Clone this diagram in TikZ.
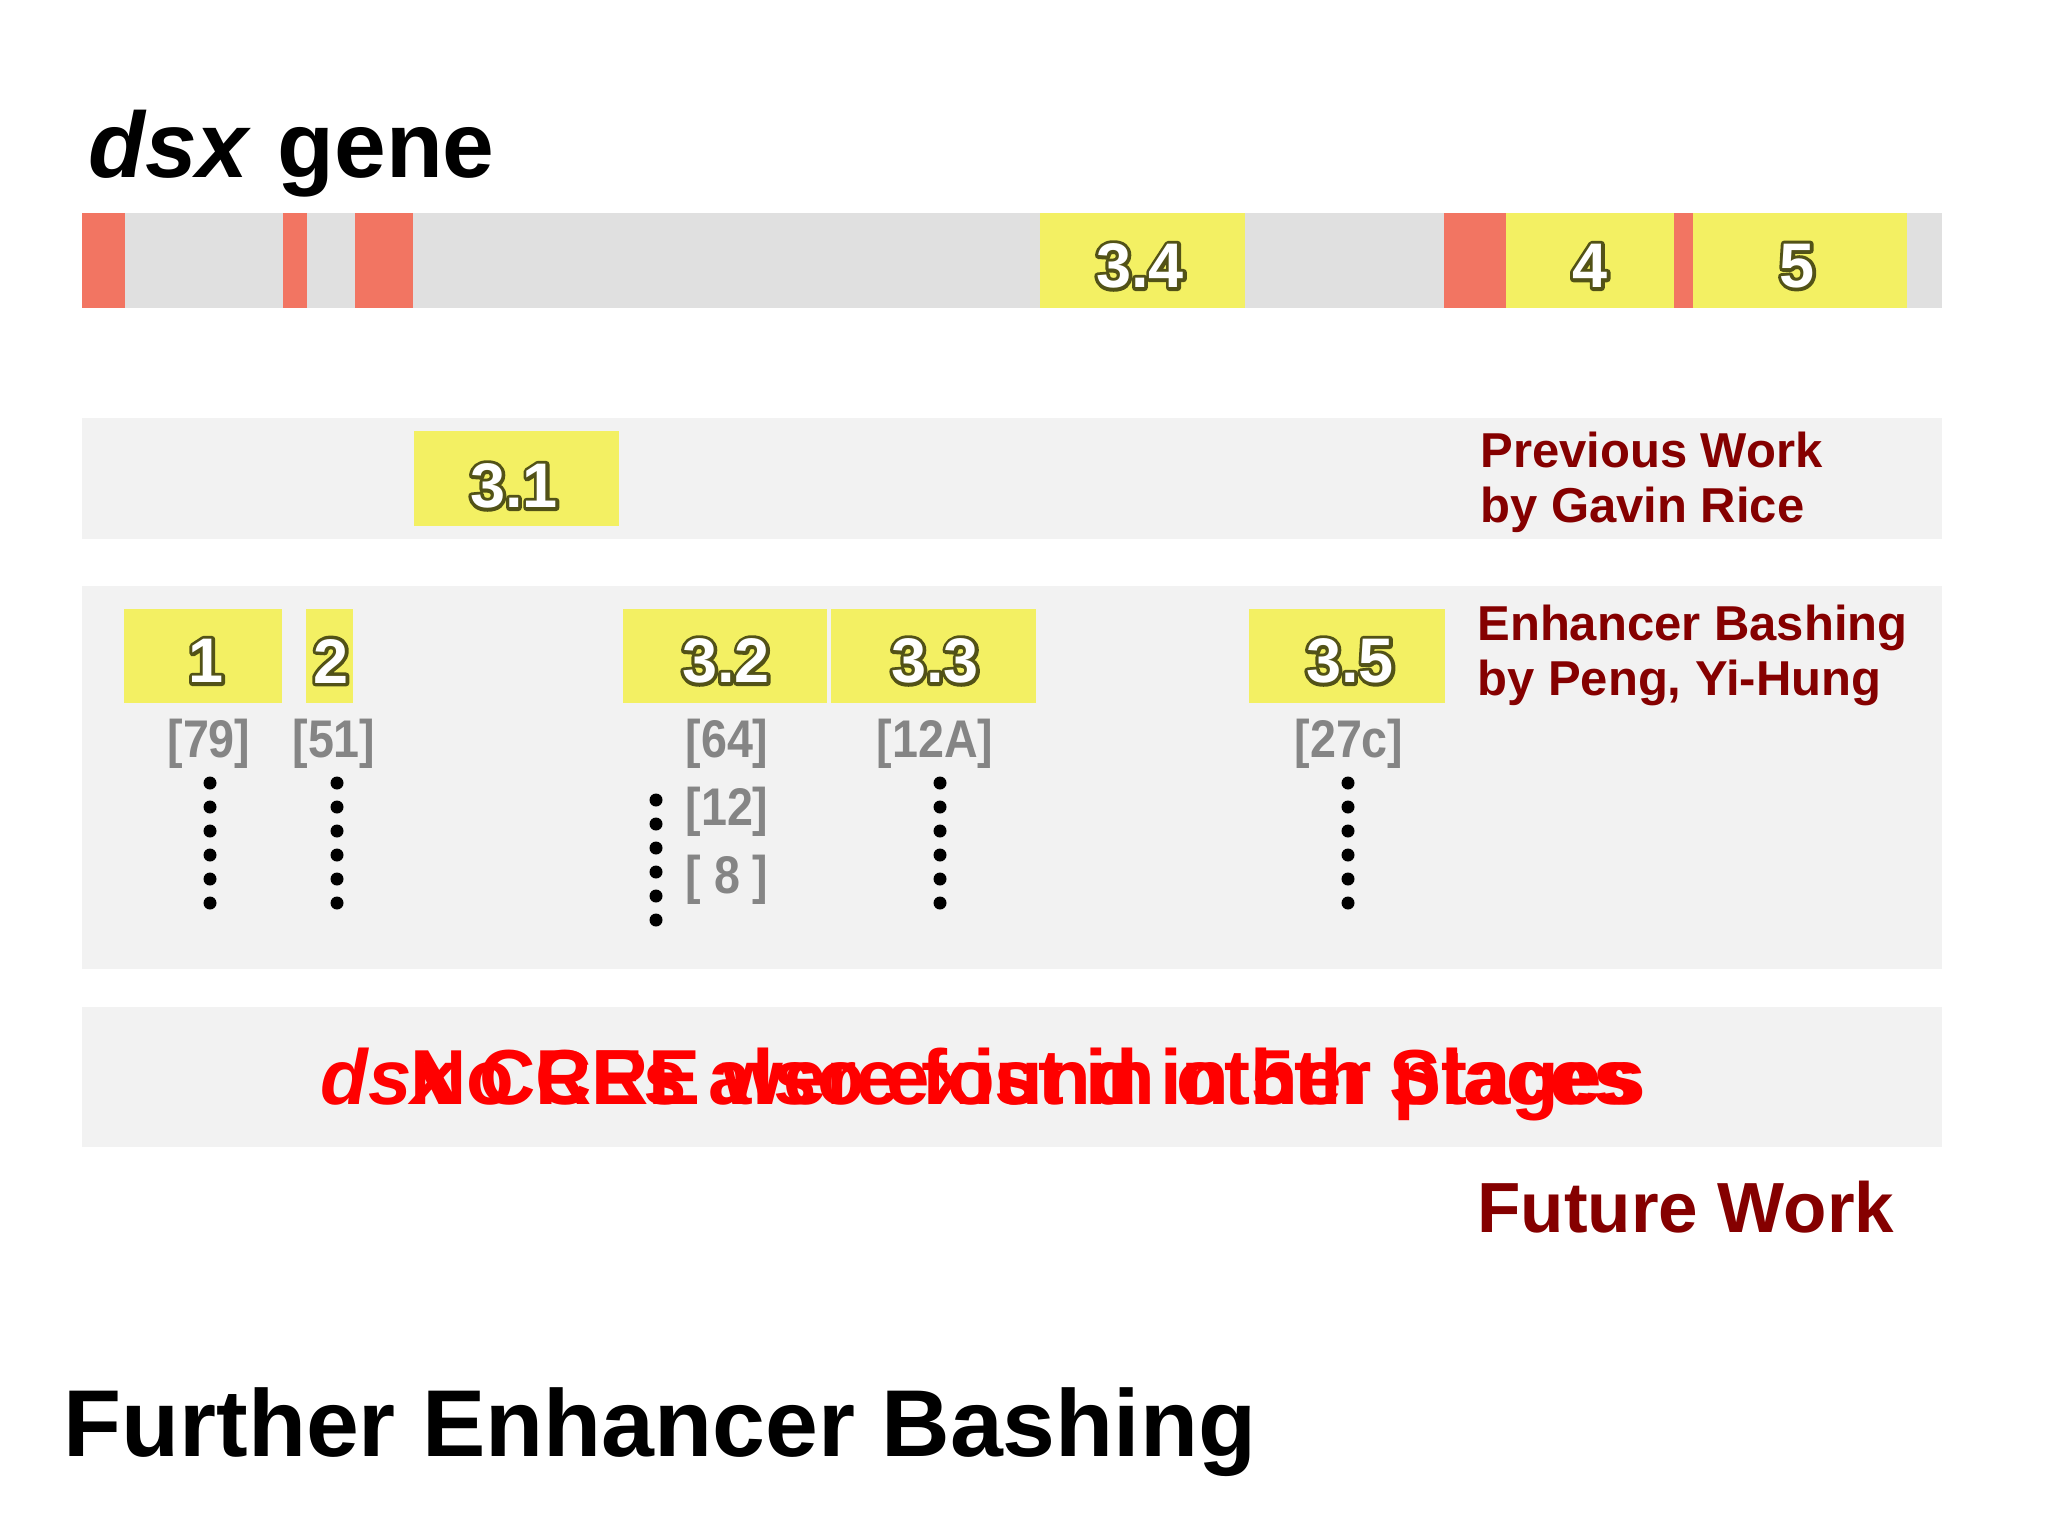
\documentclass[tikz,border=0pt]{standalone}
\usepackage{fontspec}
\setmainfont{Liberation Sans}
\usepackage{graphicx}
\definecolor{bargray}{HTML}{E0E0E0}
\definecolor{panel}{HTML}{F2F2F2}
\definecolor{yel}{HTML}{F3F063}
\definecolor{salmon}{HTML}{F27562}
\definecolor{darkred}{HTML}{850000}
\definecolor{graylab}{HTML}{858585}
\newcommand\glow[1]{\rlap{\special{pdf:literal direct 1 Tr 3.4 w 1 j 0.32 0.32 0.09 RG}#1\special{pdf:literal direct 0 Tr 1 w}}\textcolor{white}{#1}}
\newcommand\lblfont{\fontsize{31.5pt}{36pt}\selectfont\bfseries}
\newcommand\sidefont{\fontsize{24.5pt}{27.5pt}\selectfont\bfseries}
\newcommand\grayfont{\fontsize{26.5pt}{30pt}\selectfont\bfseries}
\newcommand\nar[1]{\scalebox{0.88}[1]{#1}}
\tikzset{
  lbl/.style={font=\lblfont, inner sep=0},
  graylbl/.style={text=graylab, font=\grayfont, anchor=base, inner sep=0},
  side/.style={text=darkred, font=\sidefont, align=left, anchor=base west, inner sep=0},
  redtxt/.style={text=red, font=\fontsize{39pt}{44pt}\selectfont\bfseries, anchor=base west, inner sep=0},
  dotcol/.style={fill=black},
}
\begin{document}
\begin{tikzpicture}[x=0.5pt,y=-0.5pt]
\fill[white] (0,0) rectangle (2048,1536);
\useasboundingbox (0,0) rectangle (2048,1536);
% title
\node[anchor=base west, inner sep=0, font=\fontsize{46.5pt}{52pt}\selectfont\bfseries] (title) at (88,177) {\textit{dsx} gene};
% gene bar
\fill[bargray] (82,213) rectangle (1942,308);
\fill[salmon] (82,213) rectangle (125,308);
\fill[salmon] (283,213) rectangle (307,308);
\fill[salmon] (355,213) rectangle (413,308);
\fill[yel] (1040,213) rectangle (1245,308);
\fill[salmon] (1444,213) rectangle (1506,308);
\fill[yel] (1506,213) rectangle (1674,308);
\fill[salmon] (1674,213) rectangle (1693,308);
\fill[yel] (1693,213) rectangle (1907,308);
\node[lbl] (l34) at (1140,266) {\glow{3.4}};
\node[lbl] (l4) at (1590,266) {\glow{4}};
\node[lbl] (l5) at (1797,266) {\glow{5}};
% previous work panel
\fill[panel] (82,418) rectangle (1942,539);
\fill[yel] (414,431) rectangle (619,526);
\node[lbl] (l31) at (514,486) {\glow{3.1}};
\node[side] (prev) at (1480,522) {Previous Work\\by Gavin Rice};
% enhancer bashing panel
\fill[panel] (82,586) rectangle (1942,969);
\fill[yel] (124,609) rectangle (282,703);
\fill[yel] (306,609) rectangle (353,703);
\fill[yel] (623,609) rectangle (827,703);
\fill[yel] (831,609) rectangle (1036,703);
\fill[yel] (1249,609) rectangle (1445,703);
\node[lbl] (l1) at (206,661) {\glow{1}};
\node[lbl] (l2) at (331,661) {\glow{2}};
\node[lbl] (l32) at (726,661) {\glow{3.2}};
\node[lbl] (l33) at (935,661) {\glow{3.3}};
\node[lbl] (l35) at (1350,661) {\glow{3.5}};
\node[side] (enh) at (1477,695) {Enhancer Bashing\\by Peng, Yi-Hung};
\node[graylbl] (g79) at (209,757) {\nar{[79]}};
\node[graylbl] (g51) at (334,757) {\nar{[51]}};
\node[graylbl] (g64) at (727,757) {\nar{[64]}};
\node[graylbl] (g12) at (727,825) {\nar{[12]}};
\node[graylbl] (g8) at (727,893) {\nar{[ 8 ]}};
\node[graylbl] (g12a) at (935,757) {\nar{[12A]}};
\node[graylbl] (g27c) at (1349,757) {\nar{[27c]}};
\foreach \y in {0,...,5}{
  \fill[dotcol] (210,783+\y*24) circle[radius=6.5];
  \fill[dotcol] (337,783+\y*24) circle[radius=6.5];
  \fill[dotcol] (656,800+\y*24) circle[radius=6.5];
  \fill[dotcol] (940,783+\y*24) circle[radius=6.5];
  \fill[dotcol] (1348,783+\y*24) circle[radius=6.5];
}
% future panel
\fill[panel] (82,1007) rectangle (1942,1147);
\node[redtxt] (fa) at (320,1104) {\textit{dsx} CREs also exist in other places};
\node[redtxt] (fb) at (410,1104) {No CRE were found in 5th Stages};
\node[anchor=base west, inner sep=0, text=darkred, font=\fontsize{35.5pt}{40pt}\selectfont\bfseries] (future) at (1477,1232) {Future Work};
\node[anchor=base west, inner sep=0, font=\fontsize{47.5pt}{52pt}\selectfont\bfseries] (further) at (63,1456) {Further Enhancer Bashing};
\end{tikzpicture}
\end{document}
